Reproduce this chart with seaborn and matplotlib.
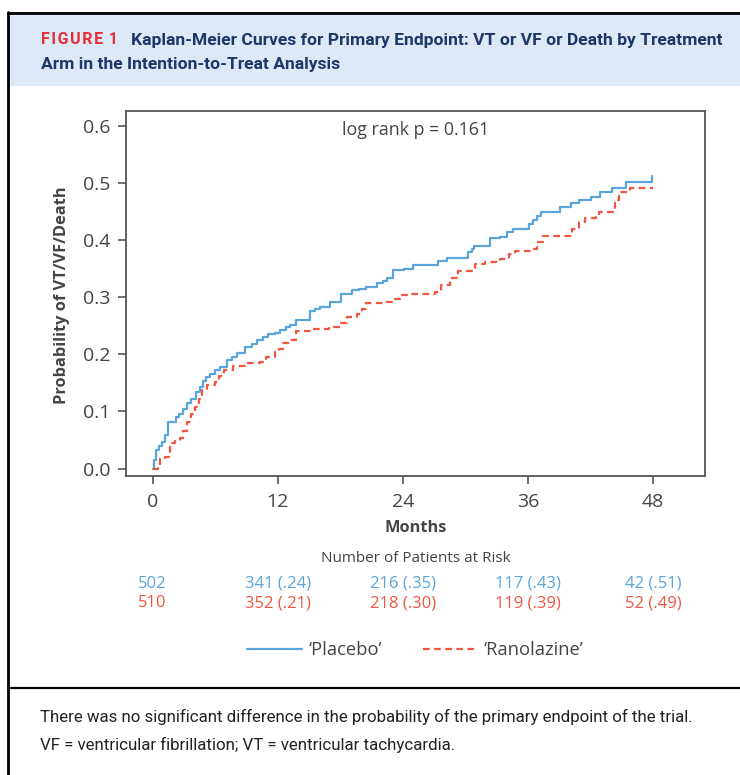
import matplotlib
matplotlib.use("Agg")
import matplotlib.pyplot as plt
import seaborn as sns
from matplotlib.patches import Rectangle
from matplotlib.lines import Line2D

# ------------------------------
# Data
# ------------------------------
placebo_t = [0, 0.1, 0.3, 0.6, 0.9, 1.2, 1.5, 2.2, 2.5, 2.9, 3.3, 3.7, 4.2, 4.5, 4.8,
             5.1, 5.5, 6.0, 6.5, 7.1, 7.6, 8.1, 8.9, 9.5, 10.0, 10.6, 11.1, 11.7, 12.2, 12.8,
             13.2, 13.8, 15.1, 15.6, 16.1, 17.0, 18.1, 19.1, 19.8, 20.5, 21.5, 22.1, 22.5, 23.1, 24.1,
             25.0, 27.4, 28.2, 30.3, 30.6, 30.8, 32.4, 33.3, 34.0, 34.6, 36.1, 36.5, 36.9, 37.3, 39.1,
             40.1, 40.9, 42.1, 42.9, 44.1, 45.4, 47.9]
placebo_p = [0, 0.015, 0.032, 0.04, 0.047, 0.058, 0.082, 0.09, 0.096, 0.104, 0.114, 0.122, 0.134, 0.143, 0.153,
             0.16, 0.166, 0.172, 0.177, 0.19, 0.196, 0.202, 0.212, 0.218, 0.225, 0.23, 0.235, 0.238, 0.242, 0.247,
             0.251, 0.26, 0.276, 0.279, 0.283, 0.292, 0.305, 0.312, 0.315, 0.318, 0.325, 0.329, 0.333, 0.347, 0.35,
             0.356, 0.364, 0.368, 0.379, 0.384, 0.389, 0.403, 0.406, 0.414, 0.419, 0.429, 0.436, 0.442, 0.449, 0.458,
             0.465, 0.471, 0.476, 0.484, 0.491, 0.501, 0.512]

ranolazine_t = [0, 0.5, 0.7, 1.2, 1.7, 2.1, 2.6, 2.9, 3.3, 3.7, 4.1, 4.4, 4.7, 5.2, 6.0,
                6.4, 6.8, 7.7, 9.0, 10.3, 10.9, 11.7, 12.1, 12.5, 13.2, 13.8, 15.4, 16.9, 18.0, 18.6,
                19.6, 20.1, 20.5, 22.5, 23.2, 23.7, 24.7, 27.1, 27.7, 28.5, 29.3, 30.9, 31.9, 33.3, 34.2,
                34.8, 36.5, 36.9, 37.5, 40.2, 40.9, 41.5, 42.5, 42.8, 44.2, 44.4, 44.7, 45.8, 48.0]
ranolazine_p = [0, 0.006, 0.016, 0.02, 0.044, 0.048, 0.053, 0.065, 0.082, 0.095, 0.108, 0.122, 0.137, 0.146, 0.152,
                0.162, 0.173, 0.179, 0.184, 0.187, 0.195, 0.204, 0.21, 0.219, 0.225, 0.241, 0.245, 0.248, 0.254, 0.265,
                0.27, 0.28, 0.289, 0.292, 0.297, 0.303, 0.306, 0.309, 0.321, 0.333, 0.346, 0.358, 0.362, 0.367, 0.375,
                0.381, 0.385, 0.397, 0.407, 0.419, 0.432, 0.438, 0.44, 0.449, 0.454, 0.47, 0.484, 0.491, 0.491]

risk_months = [0, 12, 24, 36, 48]
placebo_risk = ["502", "341 (.24)", "216 (.35)", "117 (.43)", "42 (.51)"]
ranolazine_risk = ["510", "352 (.21)", "218 (.30)", "119 (.39)", "52 (.49)"]

BLUE = "#5aa5dc"
RED = "#f0553f"
GREY = "#444444"

sns.set_theme(style="ticks")
plt.rcParams["font.family"] = ["Open Sans", "DejaVu Sans"]

fig = plt.figure(figsize=(7.4, 7.75), dpi=100)
W, H = 740, 775

# ------------------------------
# Frame / header band
# ------------------------------
fig.add_artist(Rectangle((9 / W, 1 - 86 / H), 1, (86 - 13) / H, transform=fig.transFigure,
                         facecolor="#dde9f6", edgecolor="none", zorder=0))
fig.add_artist(Line2D([8 / W, 8 / W], [0, 1 - 12 / H], transform=fig.transFigure, color="black", lw=2))
fig.add_artist(Line2D([8 / W, 1], [1 - 12.5 / H, 1 - 12.5 / H], transform=fig.transFigure, color="black", lw=2))
fig.add_artist(Line2D([8 / W, 1], [1 - 688 / H, 1 - 688 / H], transform=fig.transFigure, color="black", lw=1.6))

title_font = ["Roboto", "DejaVu Sans"]
fig.text(41 / W, 1 - 40 / H, "F\u200aI\u200aG\u200aU\u200aR\u200aE\u200a 1", color="#e3303a", fontsize=11.5,
         fontweight="bold", family=title_font, va="center", ha="left")
fig.text(131 / W, 1 - 40 / H, "Kaplan-Meier Curves for Primary Endpoint: VT or VF or Death by Treatment",
         color="#1b3868", fontsize=12.6, fontweight="bold", family=title_font, va="center", ha="left")
fig.text(41 / W, 1 - 64 / H, "Arm in the Intention-to-Treat Analysis",
         color="#1b3868", fontsize=12.6, fontweight="bold", family=title_font, va="center", ha="left")

# ------------------------------
# KM curves
# ------------------------------
ax = fig.add_axes([126 / W, 1 - 476 / H, (705 - 126) / W, (476 - 111) / H])
sns.lineplot(x=placebo_t, y=placebo_p, ax=ax, color=BLUE, lw=1.6, drawstyle="steps-post",
             estimator=None, sort=False, label="\u2018Placebo\u2019")
sns.lineplot(x=ranolazine_t, y=ranolazine_p, ax=ax, color=RED, lw=1.6, drawstyle="steps-post",
             estimator=None, sort=False, label="\u2018Ranolazine\u2019")
ax.lines[1].set_linestyle((0, (3, 2)))

ax.set_xlim(-2.56, 53.0)
ax.set_ylim(-0.013, 0.626)
ax.set_xticks(risk_months)
ax.set_yticks([0.0, 0.1, 0.2, 0.3, 0.4, 0.5, 0.6])
ax.yaxis.set_major_formatter(matplotlib.ticker.FormatStrFormatter("%.1f"))
ax.tick_params(axis="both", length=6, width=1.2, color="#555555", labelcolor=GREY, labelsize=14)
ax.tick_params(axis="x", pad=6)
ax.tick_params(axis="y", pad=5)
for s in ax.spines.values():
    s.set_color("#555555")
    s.set_linewidth(1.3)

ax.set_xlabel("Months", fontsize=11.8, fontweight="bold", color=GREY)
ax.xaxis.set_label_coords(0.5, -0.142)
ax.xaxis.label.set_va("center")
ax.set_ylabel("Probability of VT/VF/Death", fontsize=11.8, fontweight="bold", color=GREY)
ax.yaxis.set_label_coords(-0.1105, 0.496)
ax.yaxis.label.set_va("center")

ax.text(0.5, 0.948, "log rank p = 0.161", transform=ax.transAxes, ha="center", va="center",
        fontsize=12.8, color=GREY)

# ------------------------------
# Number at risk
# ------------------------------
ax.text(0.5, (476 - 558) / 365, "Number of Patients at Risk", transform=ax.transAxes,
        ha="center", va="center", fontsize=11, color=GREY)
tr = ax.get_xaxis_transform()
for m, a, b in zip(risk_months, placebo_risk, ranolazine_risk):
    ax.text(m, (476 - 584) / 365, a, transform=tr, ha="center", va="center", fontsize=12, color=BLUE)
    ax.text(m, (476 - 603) / 365, b, transform=tr, ha="center", va="center", fontsize=12, color=RED)

leg = ax.legend(loc="center", bbox_to_anchor=(0.5, (476 - 650) / 365), ncol=2, frameon=False,
                fontsize=13.2, handlelength=3.0, handletextpad=0.35, columnspacing=2.2)
for t in leg.get_texts():
    t.set_color(GREY)

# ------------------------------
# Caption
# ------------------------------
fig.text(40 / W, 1 - 717 / H,
         "There was no significant difference in the probability of the primary endpoint of the trial.",
         fontsize=12.2, color="#222222", family=title_font, va="center", ha="left")
fig.text(40 / W, 1 - 745 / H, "VF = ventricular fibrillation; VT = ventricular tachycardia.",
         fontsize=12.2, color="#222222", family=title_font, va="center", ha="left")

fig.savefig("out.png", dpi=100)
